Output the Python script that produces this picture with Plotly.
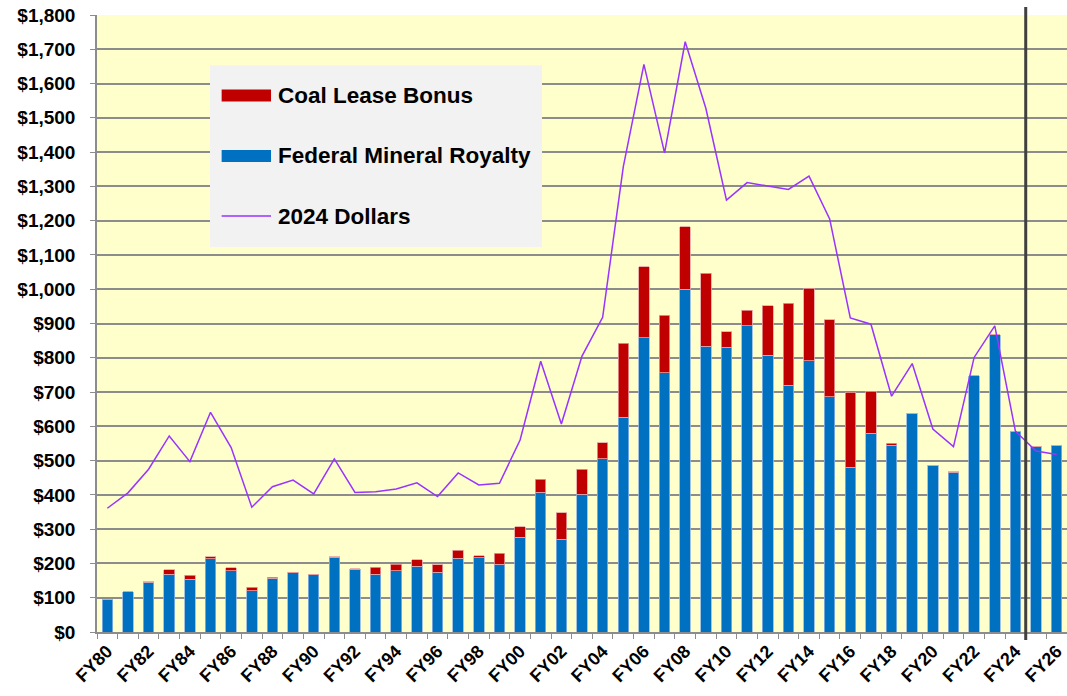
from typing import List

import plotly.graph_objects as go

# fiscal years shown on the category axis
years: List[str] = [f"FY{y % 100:02d}" for y in range(1980, 2027)]

# $ millions
royalty = [
    95, 118, 145, 168, 154, 214, 178, 120, 157, 173,
    169, 218, 183, 168, 179, 192, 175, 215, 217, 198,
    276, 407, 271, 402, 505, 627, 859, 756, 1000, 834,
    830, 893, 807, 720, 791, 686, 480, 580, 545, 638,
    487, 466, 748, 867, 586, 542, 545,
]
coal_bonus = [
    0, 0, 2, 13, 11, 6, 10, 11, 3, 2,
    0, 2, 2, 21, 19, 19, 21, 23, 6, 32,
    31, 39, 77, 73, 47, 216, 206, 168, 182, 212,
    46, 46, 145, 239, 212, 225, 219, 123, 5, 0,
    0, 2, 0, 0, 0, 0, 0,
]
dollars_2024 = [
    361, 406, 475, 572, 497, 641, 538, 364, 424, 443,
    403, 505, 407, 409, 417, 435, 395, 464, 429, 434,
    560, 790, 607, 805, 918, 1357, 1656, 1398, 1722, 1528,
    1260, 1311, 1301, 1291, 1330, 1205, 916, 898, 688, 783,
    592, 541, 801, 893, 586, 528, 518,
]

# labels only on every other year, ticks on every boundary
tick_text = [y if i % 2 == 0 else "" for i, y in enumerate(years)]

BLUE = "#0070C0"
RED = "#C00000"
PURPLE = "#9933FF"
GRID = "#8C8C8C"
FONT = "Arial, Liberation Sans, sans-serif"


def _legend(fig: go.Figure) -> None:
    """Hand drawn legend box, the Excel one has wide colour bars."""
    fig.add_shape(type="rect", xref="paper", yref="paper",
                  x0=0.1165, x1=0.4588, y0=0.624, y1=0.9185,
                  fillcolor="#F2F2F2", line=dict(width=0), layer="above")
    items = [
        ("Coal Lease Bonus", RED, 0.8695, "bar"),
        ("Federal Mineral Royalty", BLUE, 0.7715, "bar"),
        ("2024 Dollars", PURPLE, 0.6742, "line"),
    ]
    for label, color, yc, kind in items:
        if kind == "bar":
            fig.add_shape(type="rect", xref="paper", yref="paper",
                          x0=0.1285, x1=0.1794, y0=yc - 0.0097, y1=yc + 0.0097,
                          fillcolor=color, line=dict(width=0), layer="above")
        else:
            fig.add_shape(type="line", xref="paper", yref="paper",
                          x0=0.1285, x1=0.1794, y0=yc, y1=yc,
                          line=dict(color=color, width=1.5), layer="above")
        fig.add_annotation(x=0.1845, y=yc, xref="paper", yref="paper",
                           text=f"<b>{label}</b>", showarrow=False,
                           xanchor="left", yanchor="middle",
                           font=dict(family=FONT, size=22.5, color="black"))


fig = go.Figure()
fig.add_trace(go.Bar(
    x=years, y=royalty, name="Federal Mineral Royalty",
    marker=dict(color=BLUE, line=dict(color="#8DB4E2", width=0.8)),
))
fig.add_trace(go.Bar(
    x=years, y=coal_bonus, name="Coal Lease Bonus",
    marker=dict(color=RED, line=dict(color="#E6A0A0", width=0.8)),
))
fig.add_trace(go.Scatter(
    x=years, y=dollars_2024, name="2024 Dollars", mode="lines",
    line=dict(color=PURPLE, width=1.5),
))

fig.update_layout(
    width=1067,
    height=696,
    margin=dict(l=97, r=0, t=15, b=64),
    paper_bgcolor="white",
    plot_bgcolor="#FFFFCC",
    barmode="stack",
    bargap=0.49,
    showlegend=False,
    font=dict(family=FONT, color="black"),
)
fig.update_xaxes(
    type="category",
    automargin=False,
    range=[-0.5, len(years) - 0.5],
    tickvals=years,
    ticktext=tick_text,
    tickson="boundaries",
    ticks="outside",
    ticklen=5,
    tickcolor=GRID,
    tickangle=-45,
    tickfont=dict(family=FONT, size=18, weight="bold"),
    showline=True,
    linecolor=GRID,
    linewidth=1.5,
    showgrid=False,
)
fig.update_yaxes(
    automargin=False,
    range=[0, 1800],
    dtick=100,
    tickprefix="$",
    tickformat=",",
    ticks="outside",
    ticklen=5,
    tickcolor=GRID,
    ticklabelstandoff=11,
    tickfont=dict(family=FONT, size=19, weight="bold"),
    showline=True,
    linecolor=GRID,
    linewidth=1.5,
    showgrid=True,
    gridcolor=GRID,
    gridwidth=1.5,
    zeroline=False,
)

# divider between actual and forecast years
fig.add_shape(type="line", xref="x", yref="paper",
              x0=44.5, x1=44.5, y0=-0.013, y1=1.013,
              line=dict(color="#404040", width=3))

_legend(fig)

# the page's default body margin would push the figure off the window
fig.write_html(
    "out.html",
    config={"displayModeBar": False},
    post_script="document.body.style.margin = '0';",
)
